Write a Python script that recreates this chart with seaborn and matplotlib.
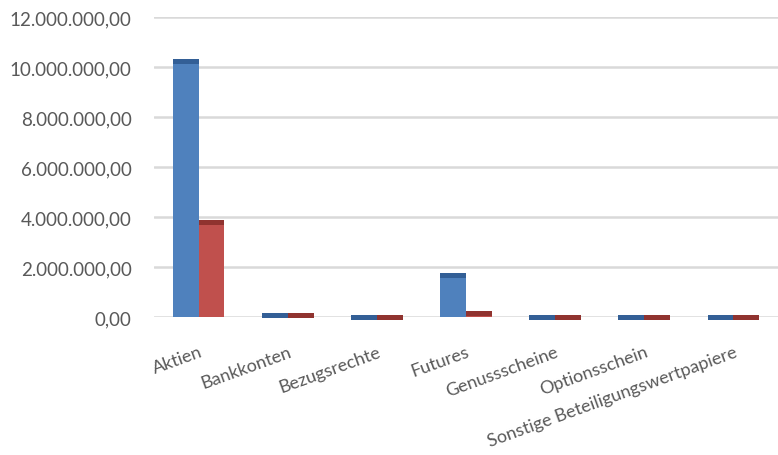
import matplotlib
matplotlib.use("Agg")
import matplotlib.pyplot as plt
import seaborn as sns
import pandas as pd
from matplotlib.ticker import FuncFormatter
from matplotlib.patches import Rectangle

categories = ["Aktien", "Bankkonten", "Bezugsrechte", "Futures",
              "Genussscheine", "Optionsschein", "Sonstige Beteiligungswertpapiere"]
series_1 = [10300000, 120000, 40000, 1720000, 40000, 40000, 40000]
series_2 = [3850000, 120000, 40000, 200000, 40000, 40000, 40000]
series_names = ["Reihe 1", "Reihe 2"]
y_ticks = [0, 2000000, 4000000, 6000000, 8000000, 10000000, 12000000]

df = pd.DataFrame({
    "Kategorie": categories * 2,
    "Wert": series_1 + series_2,
    "Reihe": [series_names[0]] * len(categories) + [series_names[1]] * len(categories),
})

sns.set_theme(style="white")
plt.rcParams["font.family"] = ["Lato", "DejaVu Sans"]

fig = plt.figure(figsize=(7.78, 4.56), dpi=100)
ax = fig.add_axes([154 / 778, 1 - 318 / 456, 624 / 778, 300 / 456])

colors = ["#4F81BD", "#C0504D"]
sns.barplot(data=df, x="Kategorie", y="Wert", hue="Reihe", palette=colors,
            width=0.58, gap=0, legend=False, ax=ax, saturation=1,
            linewidth=0, zorder=3)

# darker 3D-like top face on each bar (drawn from the bar geometry)
caps = {colors[0]: "#335f96", colors[1]: "#90332f"}
face_above = 40000
face_below = 170000
for p, c in zip(ax.patches[:2 * len(categories)], [colors[0]] * len(categories) + [colors[1]] * len(categories)):
    x, w, h = p.get_x(), p.get_width(), p.get_height()
    ax.add_patch(Rectangle((x, h - face_below), w, face_above + face_below,
                           color=caps[c], zorder=4, lw=0, clip_on=False))

ax.set_ylim(0, 12000000)
ax.set_xlim(-0.5, len(categories) - 0.5)
ax.set_yticks(y_ticks)

def de_fmt(v, pos):
    s = f"{v:,.2f}"
    return s.replace(",", "X").replace(".", ",").replace("X", ".")

ax.yaxis.set_major_formatter(FuncFormatter(de_fmt))
ax.grid(axis="y", color="#d9d9d9", linewidth=1.8, zorder=0)
ax.set_axisbelow(True)
for s in ax.spines.values():
    s.set_visible(False)
ax.set_xlabel("")
ax.set_ylabel("")
ax.tick_params(axis="y", length=0, pad=16, labelsize=13.5, labelcolor="#595959")
ax.tick_params(axis="x", length=0, pad=19, labelsize=13, labelcolor="#595959")
for lab in ax.get_xticklabels():
    lab.set_rotation(20)
    lab.set_ha("right")
    lab.set_rotation_mode("anchor")

fig.savefig("out.png", dpi=100)
